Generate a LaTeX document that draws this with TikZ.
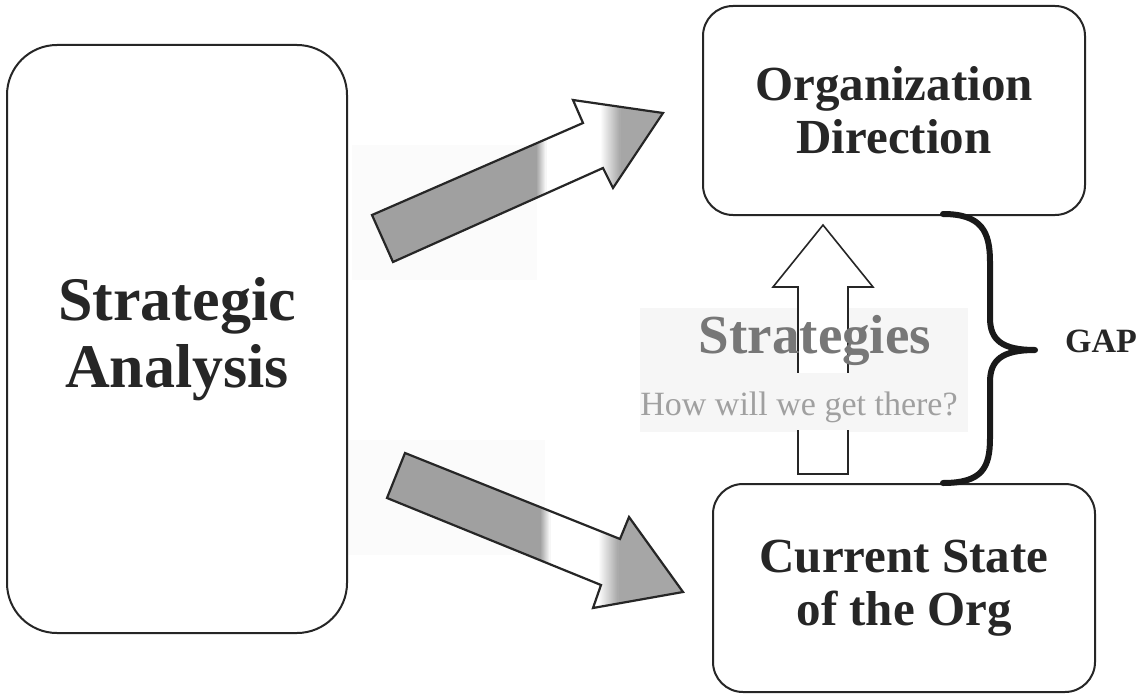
\documentclass[tikz,border=0pt]{standalone}
\usepackage{fontspec}
\setmainfont{Liberation Serif}
\definecolor{ink}{HTML}{262626}
\definecolor{armgray}{HTML}{A0A0A0}
\definecolor{headgray}{HTML}{A6A6A6}
\definecolor{faint}{HTML}{F6F6F6}
\definecolor{fainter}{HTML}{FBFBFB}
\definecolor{strat}{HTML}{777777}
\definecolor{howc}{HTML}{A0A0A0}
\begin{document}
\begin{tikzpicture}[x=1pt,y=-1pt,
  box/.style={draw=ink, line width=2pt, fill=white, inner sep=0pt, align=center,
    text=ink, font=\fontsize{49}{53}\selectfont\bfseries},
  bigarrow/.style={draw=ink, line width=2.2pt, line join=miter},
  bracestyle/.style={draw=black!90, line width=6pt, line cap=round, line join=round}]
\useasboundingbox (0,0) rectangle (1145,693);
\fill[white] (0,0) rectangle (1145,693);
% faint scan backgrounds
\fill[fainter] (352,145) rectangle (537,280);
\fill[fainter] (345,440) rectangle (545,555);
\fill[faint] (640,308) rectangle (968,432);
% boxes
\node[box, rounded corners=50pt, minimum width=340pt, minimum height=588pt,
  font=\fontsize{62}{67}\selectfont\bfseries] (sa) at (177,339) {Strategic\\Analysis};
\node[box, rounded corners=30pt, minimum width=382pt, minimum height=209pt] (od) at (894,110.5) {Organization\\Direction};
\node[box, rounded corners=30pt, minimum width=382pt, minimum height=208pt] (cs) at (904,588) {Current State\\of the Org};
% upper gradient arrow
\begin{scope}
\clip (372,215) -- (583,123) -- (573,100) -- (663,113) -- (613,188) -- (603,168) -- (393,262) -- cycle;
\fill[headgray] (360,90) rectangle (680,270);
\fill[armgray] (360,90) rectangle (536,270);
\fill[white] (546,90) rectangle (600,270);
\foreach \i in {0,...,9} {\pgfmathtruncatemacro\p{100-10*\i}
  \fill[armgray!\p!white] (536+\i,90) rectangle (537.6+\i,270);}
\foreach \i in {0,...,19} {\pgfmathtruncatemacro\p{5*\i}
  \fill[headgray!\p!white] (600+\i,90) rectangle (601.6+\i,270);}
\end{scope}
\draw[bigarrow] (372,215) -- (583,123) -- (573,100) -- (663,113) -- (613,188) -- (603,168) -- (393,262) -- cycle;
% lower gradient arrow
\begin{scope}
\clip (405,453) -- (620,539) -- (629,517) -- (683,592) -- (593,608) -- (601,585) -- (387,498) -- cycle;
\fill[headgray] (380,440) rectangle (700,615);
\fill[armgray] (380,440) rectangle (540,615);
\fill[white] (550,440) rectangle (598,615);
\foreach \i in {0,...,9} {\pgfmathtruncatemacro\p{100-10*\i}
  \fill[armgray!\p!white] (540+\i,440) rectangle (541.6+\i,615);}
\foreach \i in {0,...,19} {\pgfmathtruncatemacro\p{5*\i}
  \fill[headgray!\p!white] (598+\i,440) rectangle (599.6+\i,615);}
\end{scope}
\draw[bigarrow] (405,453) -- (620,539) -- (629,517) -- (683,592) -- (593,608) -- (601,585) -- (387,498) -- cycle;
% up arrow (strategies)
\draw[draw=ink, line width=1.6pt, fill=white] (798,474) -- (798,287) -- (773,287) -- (823,225) -- (873,287) -- (848,287) -- (848,474) -- cycle;
\node[anchor=base, fill=faint, inner sep=0pt, text height=42pt, text depth=15pt, text=howc,
  font=\fontsize{34}{34}\selectfont] (how) at (799,415) {How will we get there?};
\node[anchor=base, inner sep=0pt, text=strat, font=\fontsize{55}{55}\selectfont\bfseries] (st) at (815,353) {Strategies};
% brace
\draw[bracestyle] (943,214) .. controls (982,214) and (990,232) .. (990,262)
  -- (990,318) .. controls (990,340) and (1002,350) .. (1035,350)
  .. controls (1002,350) and (990,360) .. (990,382)
  -- (990,438) .. controls (990,468) and (982,483) .. (943,483);
\node[anchor=base west, inner sep=0pt, text=ink, font=\fontsize{34}{34}\selectfont\bfseries] (gap) at (1065,352) {GAP};
\end{tikzpicture}
\end{document}
